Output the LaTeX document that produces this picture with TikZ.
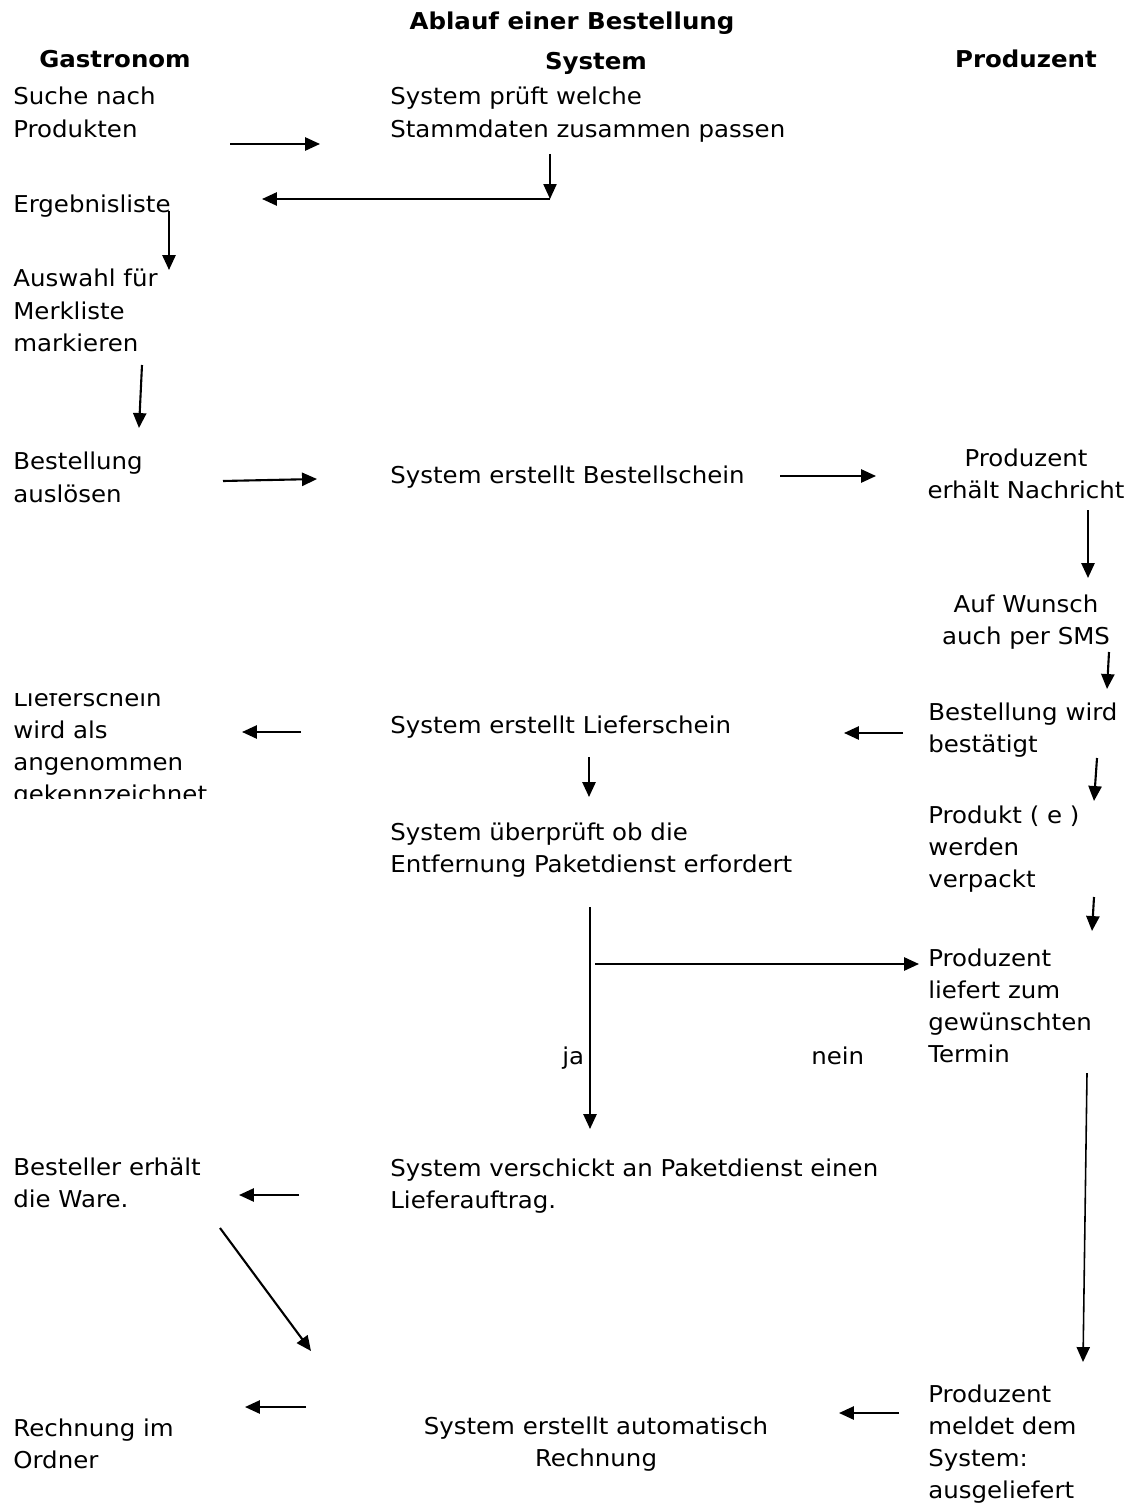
\documentclass[tikz,border=0pt]{standalone}
\usepackage{fontspec}
\setmainfont[FakeStretch=1.055]{DejaVu Sans}
\usetikzlibrary{arrows.meta}
\newcommand{\llines}[1]{\begin{tabular}[t]{@{}l@{}}#1\end{tabular}}
\newcommand{\clines}[1]{\begin{tabular}[t]{@{}c@{}}#1\end{tabular}}

\begin{document}
\begin{tikzpicture}[x=0.02cm, y=-0.02cm,
	txt/.style={inner sep=0pt, anchor=base west, font=\fontsize{13.2}{18.3}\selectfont},
	ctxt/.style={txt, anchor=base},
	head/.style={ctxt, font=\fontsize{13.2}{18.3}\selectfont\bfseries},
	arr/.style={line width=1.2pt, -{Triangle[length=8.5pt,width=7.5pt]}},
	thinarr/.style={arr, line width=0.9pt}]
		\useasboundingbox (0,0) rectangle (1135,1506);
		
		\node (title) at (572,30) [head] {Ablauf einer Bestellung};
		\node (hGastro) at (115,68) [head] {Gastronom};
		\node (hSystem) at (596,70) [head] {System};
		\node (hProd) at (1026,68) [head] {Produzent};
		
		% Gastronom
		\node (suche) at (13,105) [txt] {\llines{Suche nach\\Produkten}};
		\node (ergebnis) at (13,213) [txt] {Ergebnisliste};
		\node (auswahl) at (13,287) [txt] {\llines{Auswahl für\\Merkliste\\markieren}};
		\node (ausloesen) at (13,470) [txt] {\llines{Bestellung\\auslösen}};
		\begin{scope}
			\clip (0,693) rectangle (400,798);
			\node (angenommen) at (13,706) [txt] {\llines{Lieferschein\\wird als\\angenommen\\gekennzeichnet}};
		\end{scope}
		\node (ware) at (13,1175) [txt] {\llines{Besteller erhält\\die Ware.}};
		\node (ordner) at (13,1436) [txt] {\llines{Rechnung im\\Ordner}};
		
		% System
		\node (pruefen) at (390,105) [txt] {\llines{System prüft welche\\Stammdaten zusammen passen}};
		\node (sysBest) at (390,483) [txt] {System erstellt Bestellschein};
		\node (sysLief) at (390,733) [txt] {System erstellt Lieferschein};
		\node (sysEntf) at (390,840) [txt] {\llines{System überprüft ob die\\Entfernung Paketdienst erfordert}};
		\node (sysPaket) at (390,1176) [txt] {\llines{System verschickt an Paketdienst einen\\Lieferauftrag.}};
		\node (sysRechn) at (596,1434) [ctxt] {\clines{System erstellt automatisch\\Rechnung}};
		\node (ja) at (562,1064) [txt] {ja};
		\node (nein) at (811,1064) [txt] {nein};
		
		% Produzent
		\node (nachricht) at (1026,466) [ctxt] {\clines{Produzent\\erhält Nachricht}};
		\node (sms) at (1026,612) [ctxt] {\clines{Auf Wunsch\\auch per SMS}};
		\node (bestaetigt) at (928,720) [txt] {\llines{Bestellung wird\\bestätigt}};
		\node (verpackt) at (928,823) [txt] {\llines{Produkt ( e )\\werden\\verpackt}};
		\node (liefert) at (928,966) [txt] {\llines{Produzent\\liefert zum\\gewünschten\\Termin}};
		\node (meldet) at (928,1402) [txt] {\llines{Produzent\\meldet dem\\System:\\ausgeliefert}};
		
		\coordinate (sucheOut) at (230,144);
		\coordinate (pruefIn) at (320,144);
		\coordinate (pruefOut) at (550,154);
		\coordinate (knick) at (550,199);
		\coordinate (ergIn) at (262,199);
		\coordinate (ergOut) at (169,211);
		\coordinate (auswIn) at (169,270);
		\coordinate (auswOut) at (142,365);
		\coordinate (ausloesIn) at (139,428);
		\coordinate (ausloesOut) at (223,481);
		\coordinate (bestIn) at (317,479);
		\coordinate (bestOut) at (780,476);
		\coordinate (nachrIn) at (876,476);
		\coordinate (nachrOut) at (1088,510);
		\coordinate (smsIn) at (1088,578);
		\coordinate (smsOut) at (1109,652);
		\coordinate (bestaetIn) at (1107,689);
		\coordinate (bestaetOut) at (903,733);
		\coordinate (liefIn) at (844,733);
		\coordinate (liefOut) at (301,732);
		\coordinate (angIn) at (242,732);
		\coordinate (liefDown) at (589,757);
		\coordinate (entfIn) at (589,797);
		\coordinate (bestaetDown) at (1097,758);
		\coordinate (verpIn) at (1094,801);
		\coordinate (verpOut) at (1094,897);
		\coordinate (liefertIn) at (1092,931);
		\coordinate (entfOut) at (590,907);
		\coordinate (paketIn) at (590,1129);
		\coordinate (neinOut) at (595,964);
		\coordinate (neinIn) at (919,964);
		\coordinate (liefertOut) at (1087,1073);
		\coordinate (meldetIn) at (1083,1362);
		\coordinate (paketOut) at (299,1195);
		\coordinate (wareIn) at (239,1195);
		\coordinate (wareOut) at (220,1228);
		\coordinate (wareEnd) at (311,1351);
		\coordinate (meldetOut) at (899,1413);
		\coordinate (rechnIn) at (839,1413);
		\coordinate (rechnOut) at (306,1407);
		\coordinate (ordnerIn) at (245,1407);
		
		\draw [arr] (sucheOut) -- (pruefIn);
		\draw [thinarr] (pruefOut) -- (knick);
		\draw [arr] (knick) -- (ergIn);
		\draw [arr] (ergOut) -- (auswIn);
		\draw [arr] (auswOut) -- (ausloesIn);
		\draw [arr] (ausloesOut) -- (bestIn);
		\draw [arr] (bestOut) -- (nachrIn);
		\draw [arr] (nachrOut) -- (smsIn);
		\draw [arr] (smsOut) -- (bestaetIn);
		\draw [arr] (bestaetOut) -- (liefIn);
		\draw [arr] (liefOut) -- (angIn);
		\draw [arr] (liefDown) -- (entfIn);
		\draw [arr] (bestaetDown) -- (verpIn);
		\draw [arr] (verpOut) -- (liefertIn);
		\draw [arr] (entfOut) -- (paketIn);
		\draw [arr] (neinOut) -- (neinIn);
		\draw [thinarr] (liefertOut) -- (meldetIn);
		\draw [arr] (paketOut) -- (wareIn);
		\draw [arr] (wareOut) -- (wareEnd);
		\draw [arr] (meldetOut) -- (rechnIn);
		\draw [arr] (rechnOut) -- (ordnerIn);
\end{tikzpicture}
\end{document}
